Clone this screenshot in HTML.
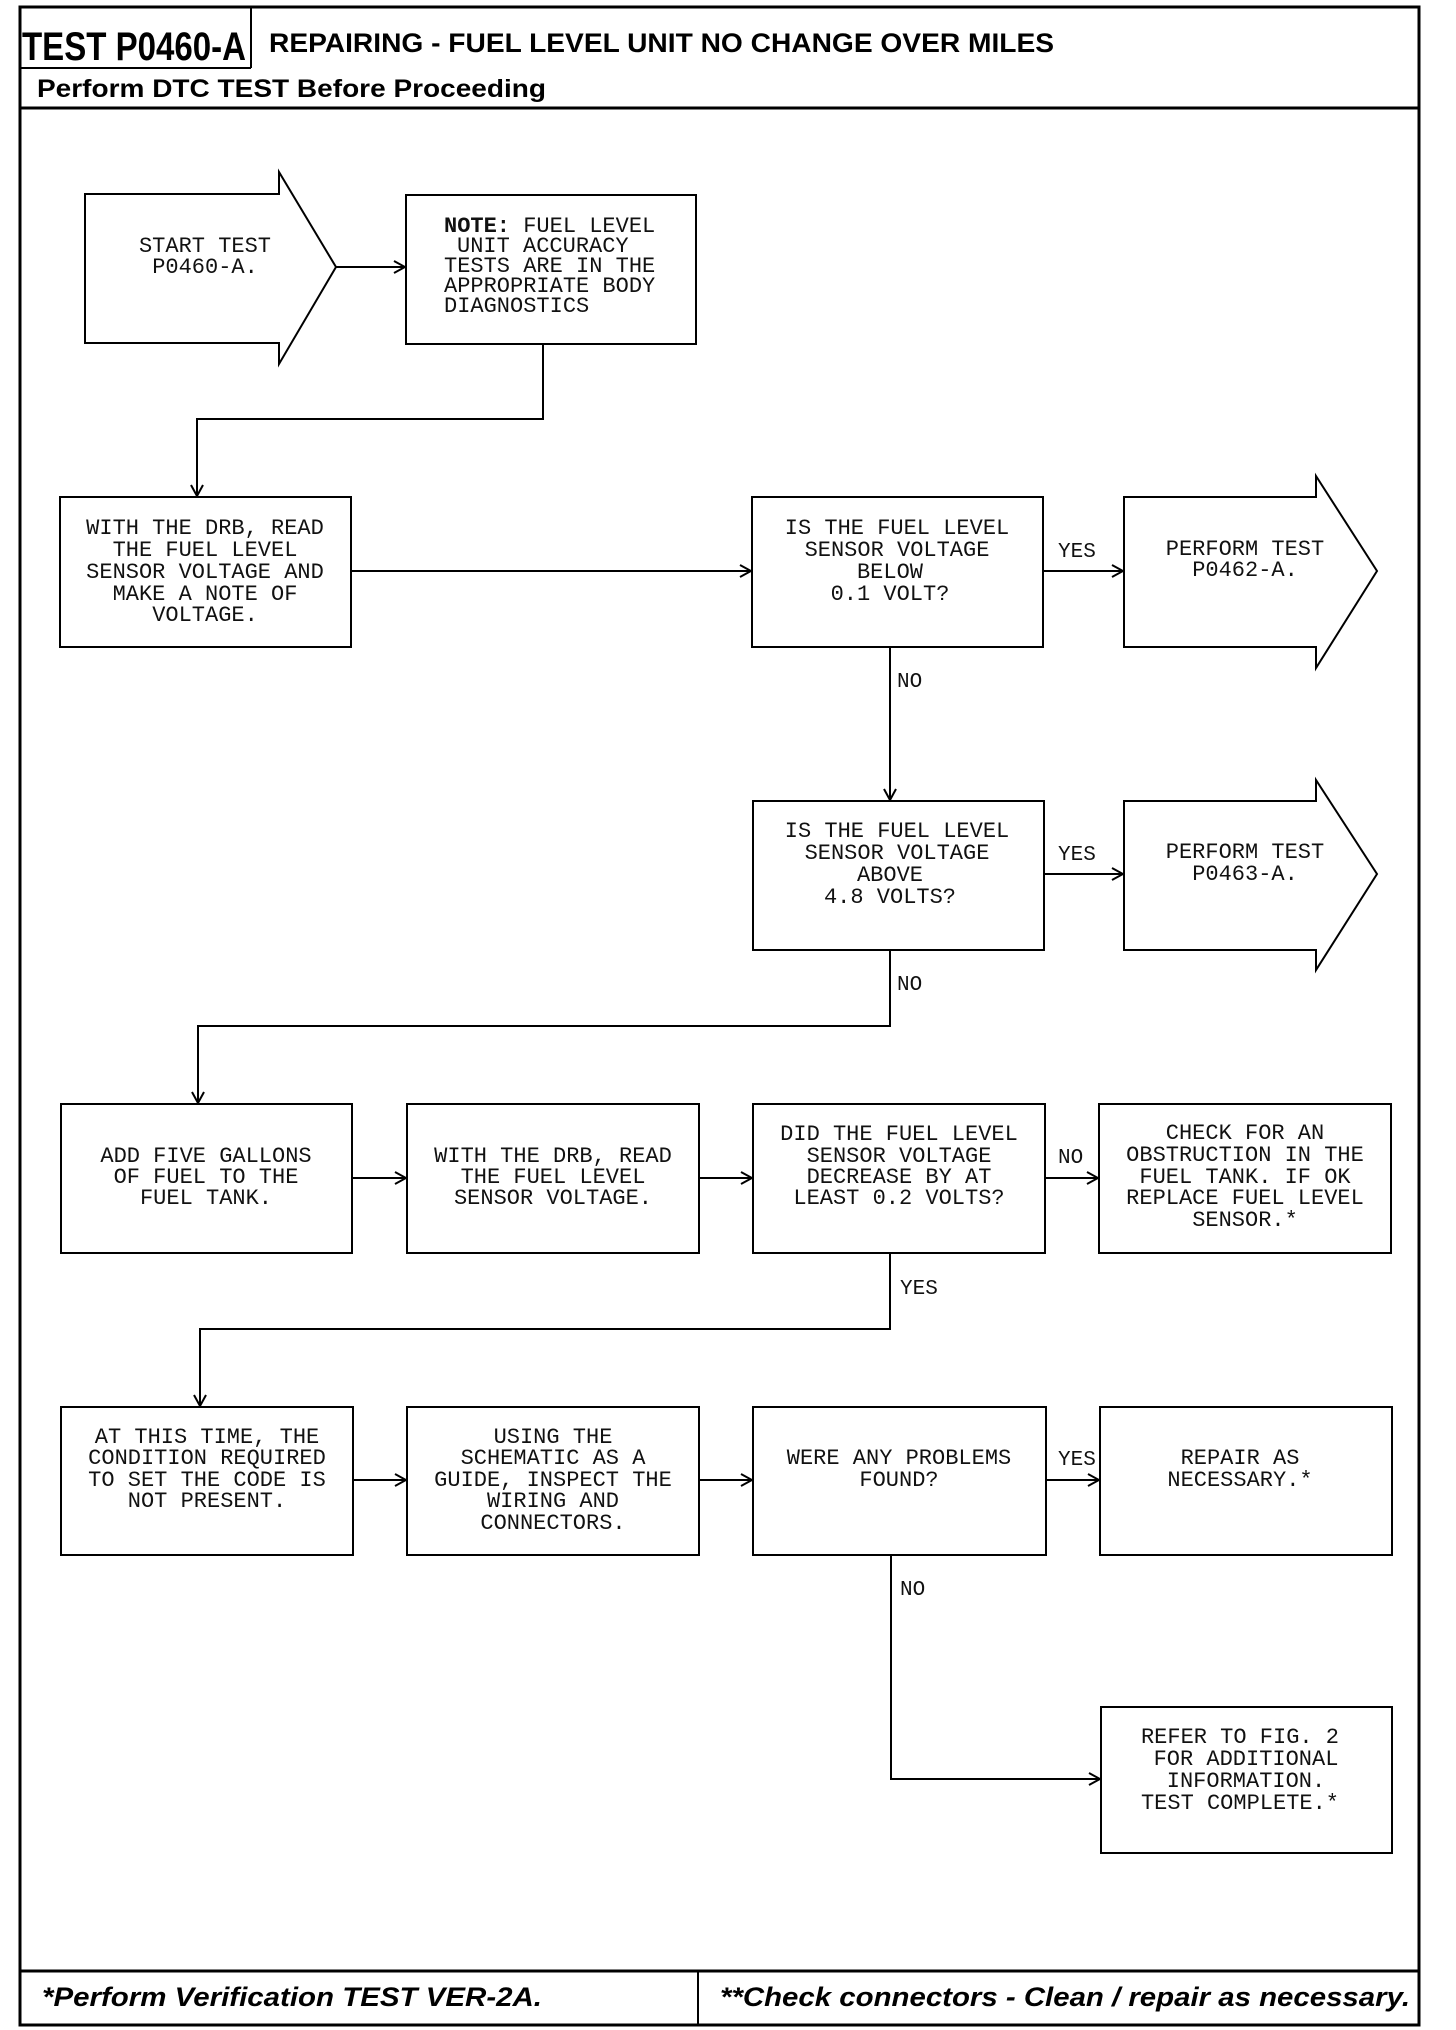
<!DOCTYPE html>
<html><head><meta charset="utf-8"><style>
html,body{margin:0;padding:0;background:#fff}
svg{display:block}
.m{font-family:"Liberation Mono","DejaVu Sans Mono",monospace;font-size:22px;fill:#111}
.l{font-family:"Liberation Mono","DejaVu Sans Mono",monospace;font-size:21px;fill:#111}
.h{font-family:"Liberation Sans",Arial,sans-serif;font-weight:bold;fill:#000}
</style></head><body>
<svg width="1456" height="2030" viewBox="0 0 1456 2030" xmlns="http://www.w3.org/2000/svg">
<defs><marker id="a" markerWidth="14" markerHeight="14" refX="12" refY="7" orient="auto" markerUnits="userSpaceOnUse"><path d="M1,1 L12,7 L1,13" fill="none" stroke="#000" stroke-width="2"/></marker></defs>
<g fill="none" stroke="#000">
<rect x="20" y="7" width="1399" height="2018" stroke-width="3"/>
<line x1="251" y1="7" x2="251" y2="68" stroke-width="2"/>
<line x1="20" y1="68" x2="251" y2="68" stroke-width="2"/>
<line x1="20" y1="108" x2="1419" y2="108" stroke-width="3"/>
<line x1="20" y1="1971" x2="1419" y2="1971" stroke-width="3"/>
<line x1="698" y1="1971" x2="698" y2="2025" stroke-width="2"/>
<g stroke-width="2">
<polygon points="85,194 279,194 279,172 336,267 279,364 279,343 85,343"/>
<rect x="406" y="195" width="290" height="149"/>
<rect x="60" y="497" width="291" height="150"/>
<rect x="752" y="497" width="291" height="150"/>
<polygon points="1124,497 1316,497 1316,476 1377,571 1316,668 1316,647 1124,647"/>
<rect x="753" y="801" width="291" height="149"/>
<polygon points="1124,801 1316,801 1316,780 1377,874 1316,970 1316,950 1124,950"/>
<rect x="61" y="1104" width="291" height="149"/>
<rect x="407" y="1104" width="292" height="149"/>
<rect x="753" y="1104" width="292" height="149"/>
<rect x="1099" y="1104" width="292" height="149"/>
<rect x="61" y="1407" width="292" height="148"/>
<rect x="407" y="1407" width="292" height="148"/>
<rect x="753" y="1407" width="293" height="148"/>
<rect x="1100" y="1407" width="292" height="148"/>
<rect x="1101" y="1707" width="291" height="146"/>
</g>
<g stroke-width="2" marker-end="url(#a)">
<line x1="336" y1="267" x2="405" y2="267"/>
<polyline points="543,344 543,419 197,419 197,496"/>
<line x1="351" y1="571" x2="751" y2="571"/>
<line x1="1043" y1="571" x2="1123" y2="571"/>
<line x1="890" y1="647" x2="890" y2="800"/>
<line x1="1044" y1="874" x2="1123" y2="874"/>
<polyline points="890,950 890,1026 198,1026 198,1103"/>
<line x1="352" y1="1178" x2="406" y2="1178"/>
<line x1="699" y1="1178" x2="752" y2="1178"/>
<line x1="1045" y1="1178" x2="1098" y2="1178"/>
<polyline points="890,1253 890,1329 200,1329 200,1406"/>
<line x1="353" y1="1480" x2="406" y2="1480"/>
<line x1="699" y1="1480" x2="752" y2="1480"/>
<line x1="1046" y1="1480" x2="1099" y2="1480"/>
<polyline points="891,1555 891,1779 1100,1779"/>
</g>
</g>
<text class="h" x="22" y="60" font-size="40" textLength="224" lengthAdjust="spacingAndGlyphs">TEST P0460-A</text>
<text class="h" x="269" y="52" font-size="27" textLength="785" lengthAdjust="spacingAndGlyphs">REPAIRING - FUEL LEVEL UNIT NO CHANGE OVER MILES</text>
<text class="h" x="37" y="97" font-size="25" textLength="509" lengthAdjust="spacingAndGlyphs">Perform DTC TEST Before Proceeding</text>
<text class="h" x="42" y="2006" font-size="27" font-style="italic" textLength="500" lengthAdjust="spacingAndGlyphs">*Perform Verification TEST VER-2A.</text>
<text class="h" x="720" y="2006" font-size="27" font-style="italic" textLength="690" lengthAdjust="spacingAndGlyphs">**Check connectors - Clean / repair as necessary.</text>
<g class="m" text-anchor="middle">
<text x="205" y="252">START TEST</text><text x="205" y="273">P0460-A.</text>
<text x="205" y="534">WITH THE DRB, READ</text><text x="205" y="556">THE FUEL LEVEL</text><text x="205" y="578">SENSOR VOLTAGE AND</text><text x="205" y="600">MAKE A NOTE OF</text><text x="205" y="621">VOLTAGE.</text>
<text x="897" y="534">IS THE FUEL LEVEL</text><text x="897" y="556">SENSOR VOLTAGE</text><text x="890" y="578">BELOW</text><text x="890" y="600">0.1 VOLT?</text>
<text x="1245" y="555">PERFORM TEST</text><text x="1245" y="576">P0462-A.</text>
<text x="897" y="837">IS THE FUEL LEVEL</text><text x="897" y="859">SENSOR VOLTAGE</text><text x="890" y="881">ABOVE</text><text x="890" y="903">4.8 VOLTS?</text>
<text x="1245" y="858">PERFORM TEST</text><text x="1245" y="880">P0463-A.</text>
<text x="206" y="1162">ADD FIVE GALLONS</text><text x="206" y="1183">OF FUEL TO THE</text><text x="206" y="1204">FUEL TANK.</text>
<text x="553" y="1162">WITH THE DRB, READ</text><text x="553" y="1183">THE FUEL LEVEL</text><text x="553" y="1204">SENSOR VOLTAGE.</text>
<text x="899" y="1140">DID THE FUEL LEVEL</text><text x="899" y="1162">SENSOR VOLTAGE</text><text x="899" y="1183">DECREASE BY AT</text><text x="899" y="1204">LEAST 0.2 VOLTS?</text>
<text x="1245" y="1139">CHECK FOR AN</text><text x="1245" y="1161">OBSTRUCTION IN THE</text><text x="1245" y="1183">FUEL TANK. IF OK</text><text x="1245" y="1204">REPLACE FUEL LEVEL</text><text x="1245" y="1226">SENSOR.*</text>
<text x="207" y="1443">AT THIS TIME, THE</text><text x="207" y="1464">CONDITION REQUIRED</text><text x="207" y="1486">TO SET THE CODE IS</text><text x="207" y="1507">NOT PRESENT.</text>
<text x="553" y="1443">USING THE</text><text x="553" y="1464">SCHEMATIC AS A</text><text x="553" y="1486">GUIDE, INSPECT THE</text><text x="553" y="1507">WIRING AND</text><text x="553" y="1529">CONNECTORS.</text>
<text x="899" y="1464">WERE ANY PROBLEMS</text><text x="899" y="1486">FOUND?</text>
<text x="1240" y="1464">REPAIR AS</text><text x="1240" y="1486">NECESSARY.*</text>
<text x="1240" y="1743">REFER TO FIG. 2</text><text x="1246" y="1765">FOR ADDITIONAL</text><text x="1246" y="1787">INFORMATION.</text><text x="1240" y="1809">TEST COMPLETE.*</text>
</g>
<g class="m">
<text x="444" y="232"><tspan font-weight="bold">NOTE:</tspan> FUEL LEVEL</text>
<text x="457" y="252">UNIT ACCURACY</text>
<text x="444" y="272">TESTS ARE IN THE</text>
<text x="444" y="292">APPROPRIATE BODY</text>
<text x="444" y="312">DIAGNOSTICS</text>
</g>
<g class="l">
<text x="1058" y="557">YES</text>
<text x="897" y="687">NO</text>
<text x="1058" y="860">YES</text>
<text x="897" y="990">NO</text>
<text x="1058" y="1163">NO</text>
<text x="900" y="1294">YES</text>
<text x="1058" y="1465">YES</text>
<text x="900" y="1595">NO</text>
</g>
</svg>
</body></html>
